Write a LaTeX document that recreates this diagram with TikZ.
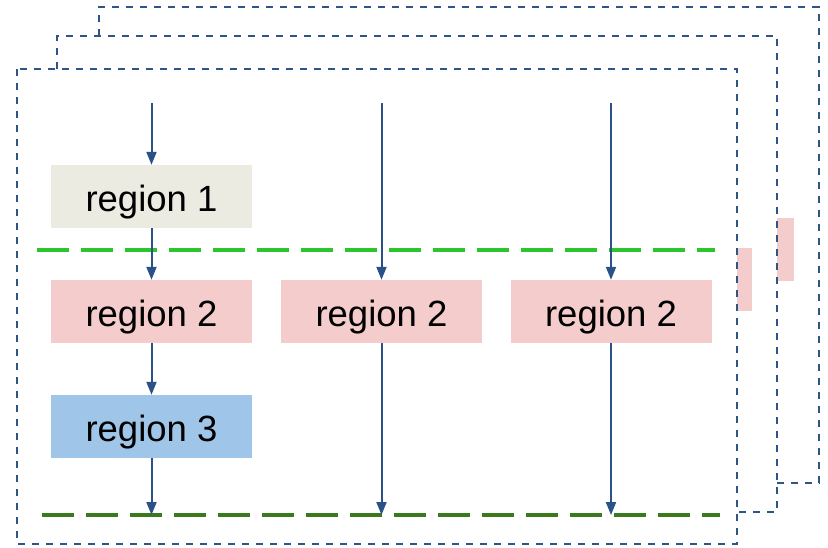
\documentclass[tikz,border=0pt]{standalone}
\usepackage{fontspec}
\setmainfont{Liberation Sans}
\usetikzlibrary{arrows.meta}
\definecolor{framec}{HTML}{2F5586}
\definecolor{arrowc}{HTML}{2A5288}
\definecolor{lgreen}{HTML}{2DC52D}
\definecolor{dgreen}{HTML}{3A7A1F}
\definecolor{beige}{HTML}{ECEBE1}
\definecolor{pinkc}{HTML}{F4CCCC}
\definecolor{bluec}{HTML}{9FC5E8}
\tikzset{
  region/.style={minimum width=201pt, minimum height=63pt, inner sep=0pt, text height=29pt, text depth=0pt, font=\fontsize{36.5}{40}\selectfont},
  frame/.style={draw=framec, line width=2.2pt, dash pattern=on 7.3pt off 6.7pt},
  flow/.style={draw=arrowc, line width=2pt, -{Triangle[width=10pt,length=13pt]}},
  gline/.style={line width=3.5pt, dash pattern=on 32pt off 12pt},
}
\begin{document}
\begin{tikzpicture}[x=1pt,y=-1pt]
\useasboundingbox (0,0) rectangle (828,547);
% back region slivers
\fill[pinkc] (737,248) rectangle (752,311);
\fill[pinkc] (777,218) rectangle (794,281);
% stacked frames
\draw[frame] (99,36) -- (99,7) -- (819,7) -- (819,483) -- (777,483);
\draw[frame] (57,69) -- (57,36) -- (777,36) -- (777,512) -- (737,512);
\draw[frame] (17,69) rectangle (737,544);
% dashed separators
\draw[gline, draw=lgreen] (37,250) -- (715,250);
\draw[gline, draw=dgreen] (42,515) -- (720,515);
% regions
\node[region, fill=beige] (r1) at (151.5,196.5) {region 1};
\node[region, fill=pinkc] (r2a) at (151.5,311.5) {region 2};
\node[region, fill=pinkc] (r2b) at (381.5,311.5) {region 2};
\node[region, fill=pinkc] (r2c) at (611,311.5) {region 2};
\node[region, fill=bluec] (r3) at (151.5,426.5) {region 3};
% coordinates
\coordinate (s1) at (151.5,103);
\coordinate (s2) at (381.5,103);
\coordinate (s3) at (611,103);
\coordinate (e1) at (151.5,515);
\coordinate (e2) at (381.5,515);
\coordinate (e3) at (611,515);
% arrows
\draw[flow] (s1) -- (r1.north);
\draw[flow] (r1.south) -- (r2a.north);
\draw[flow] (r2a.south) -- (r3.north);
\draw[flow] (r3.south) -- (e1);
\draw[flow] (s2) -- (r2b.north);
\draw[flow] (r2b.south) -- (e2);
\draw[flow] (s3) -- (r2c.north);
\draw[flow] (r2c.south) -- (e3);
\end{tikzpicture}
\end{document}
